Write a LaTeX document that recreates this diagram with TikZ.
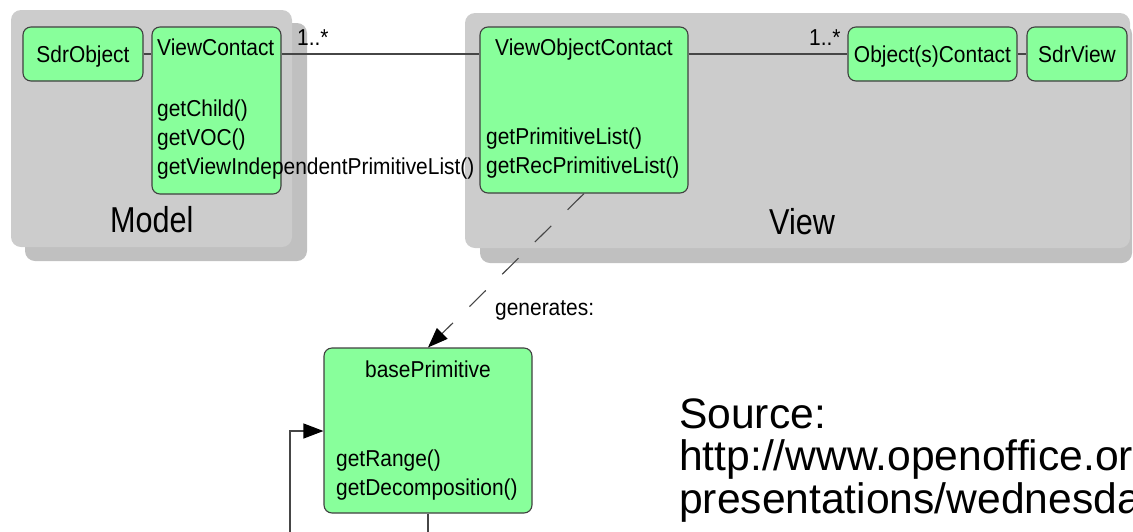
\documentclass[tikz,border=0pt]{standalone}
\usepackage{fontspec}
\setmainfont{Liberation Sans}
\newfontfamily\diagfont[FakeStretch=0.91]{Liberation Sans}
\newfontfamily\panelfont[FakeStretch=0.85]{Liberation Sans}
\usetikzlibrary{arrows.meta}
\definecolor{boxgreen}{RGB}{136,255,155}
\definecolor{boxline}{RGB}{64,64,64}
\definecolor{panel}{RGB}{204,204,204}
\definecolor{panelshadow}{RGB}{192,192,192}
\definecolor{wire}{RGB}{70,70,70}
\tikzset{
  panelbox/.style={fill=panel, rounded corners=10pt},
  shadowbox/.style={fill=panelshadow, rounded corners=10pt},
  classbox/.style={draw=boxline, fill=boxgreen, line width=1.1pt, rounded corners=8pt,
    inner sep=0pt, text height=16.5pt, text depth=0pt,
    font=\diagfont\fontsize{23}{29}\selectfont},
  txt/.style={inner sep=0pt, font=\diagfont\fontsize{23}{29}\selectfont},
  paneltxt/.style={inner sep=0pt, font=\panelfont\fontsize{36}{40}\selectfont},
  srctxt/.style={inner sep=0pt, font=\fontsize{42.6}{42.5}\selectfont},
  wireline/.style={draw=wire, line width=1.1pt},
  tip/.style={-{Triangle[length=20pt,width=15pt,color=black]}},
}
\begin{document}
\begin{tikzpicture}[x=1pt,y=-1pt]
\useasboundingbox (0,0) rectangle (1133,531);
\clip (0,0) rectangle (1133,531);

% Model and View panels with their shadows
\fill[shadowbox] (25,23) rectangle (307,261);
\fill[panelbox] (11,10) rectangle (292,247);
\fill[shadowbox] (480,24) rectangle (1132,263);
\fill[panelbox] (465,13) rectangle (1130,248);
\node[paneltxt, anchor=base west] (model) at (110,232) {Model};
\node[paneltxt, anchor=base west] (view) at (769,234) {View};

% classes
\node[classbox, minimum width=120pt, minimum height=54pt] (sdr) at (83,54) {SdrObject};
\node[classbox, minimum width=129pt, minimum height=167pt] (vc) at (216.5,110.5) {};
\node[classbox, minimum width=208pt, minimum height=166pt] (voc) at (584,110) {};
\node[classbox, minimum width=169pt, minimum height=54pt] (oc) at (932.5,54) {Object(s)Contact};
\node[classbox, minimum width=100pt, minimum height=54pt] (sv) at (1077,54) {SdrView};
\node[classbox, minimum width=208pt, minimum height=165pt] (bp) at (428,430.5) {};

% associations
\draw[wireline] (sdr.east) -- (vc.west |- sdr.east);
\draw[wireline] (vc.east |- sdr.east) -- (voc.west |- sdr.east);
\draw[wireline] (voc.east |- oc.west) -- (oc.west);
\draw[wireline] (oc.east) -- (sv.west);
\node[txt, anchor=base west] (m1) at (297,45) {1..*};
\node[txt, anchor=base west] (m2) at (809,45) {1..*};

% generation and recursion
\draw[wireline, tip, dash pattern=on 23pt off 23pt] (voc.south) -- (bp.north);
\node[txt, anchor=base west] (gen) at (495,315) {generates:};
\coordinate (lb) at (428,570);
\coordinate (lc) at (290,570);
\coordinate (ld) at (290,431);
\draw[wireline, tip] (bp.south) -- (lb) -- (lc) -- (ld) -- (bp.west |- ld);

% class titles and operations (multi-line nodes sit on their last baseline)
\node[txt, anchor=base west] (vct) at (157,55) {ViewContact};
\node[txt, anchor=base west, align=left] (vcm) at (157,174)
  {getChild()\\getVOC()\\getViewIndependentPrimitiveList()};
\node[txt, anchor=base] (voct) at (584,55) {ViewObjectContact};
\node[txt, anchor=base west, align=left] (vocm) at (486,173)
  {getPrimitiveList()\\getRecPrimitiveList()};
\node[txt, anchor=base] (bpt) at (428,377) {basePrimitive};
\node[txt, anchor=base west, align=left] (bpm) at (336,495)
  {getRange()\\getDecomposition()};

% source note
\node[srctxt, anchor=base west, align=left] (src) at (679,513)
  {Source:\\http://www.openoffice.org/\\presentations/wednesday};
\end{tikzpicture}
\end{document}
